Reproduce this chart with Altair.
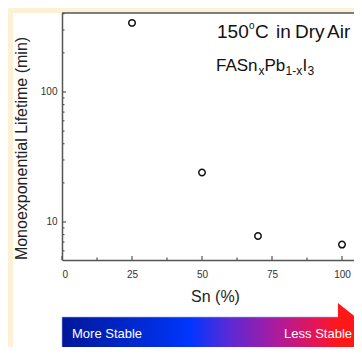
import altair as alt
import pandas as pd

# ---- data ----
sn_percent = [25, 50, 70, 100]
lifetime_min = [340, 24, 7.8, 6.7]

x_major_ticks = [0, 25, 50, 75, 100]
x_minor_ticks = [12.5, 37.5, 62.5, 87.5]
y_major_ticks = [10, 100]
y_minor_ticks = [6, 7, 8, 9, 20, 30, 40, 50, 60, 70, 80, 90, 200, 300, 400]

x_title = "Sn (%)"
y_title = "Monoexponential Lifetime (min)"
arrow_left_label = "More Stable"
arrow_right_label = "Less Stable"
cond_words = ["150", "o", "C", "in", "Dry", "Air"]
formula_parts = ["FASn", "x", "Pb", "1-x", "I", "3"]

FONT = "Liberation Sans"
W, H = 292, 247
AX = "#555555"

df = pd.DataFrame({"sn": sn_percent, "life": lifetime_min})
xs = alt.Scale(domain=[0, W / 2.8], nice=False, zero=False)
ys = alt.Scale(type="log", domain=[5.1, 405], nice=False)

x_axis = alt.Axis(
    values=x_major_ticks, ticks=False, grid=False, format="d",
    labelFont=FONT, labelFontSize=10, labelColor="#333333", labelPadding=9,
    domainColor=AX, domainWidth=1.5, title=x_title, titleFont=FONT,
    titleFontSize=16, titleFontWeight="normal", titleColor="#222222",
    titleX=153, titleY=41, titleBaseline="alphabetic", zindex=1)
y_axis = alt.Axis(
    values=y_major_ticks, ticks=False, grid=False, format="d",
    labelFont=FONT, labelFontSize=10, labelColor="#333333", labelPadding=5,
    domainColor=AX, domainWidth=1.5, title=y_title, titleFont=FONT,
    titleFontSize=16, titleFontWeight="normal", titleColor="#222222",
    titleX=-36, titleY=135, titleAngle=270, titleBaseline="alphabetic", zindex=1)

points = alt.Chart(df).mark_point(
    shape="circle", filled=False, color="#111111", strokeWidth=1.5, size=42, opacity=1
).encode(
    x=alt.X("sn:Q", scale=xs, axis=x_axis, title=x_title),
    y=alt.Y("life:Q", scale=ys, axis=y_axis, title=y_title),
)

def xticks(vals, ln):
    return alt.Chart(pd.DataFrame({"sn": vals})).mark_rule(color=AX, strokeWidth=1.2).encode(
        x=alt.X("sn:Q", scale=xs, axis=x_axis, title=x_title),
        y=alt.value(H), y2=alt.value(H - ln))

def yticks(vals, ln):
    return alt.Chart(pd.DataFrame({"life": vals})).mark_rule(color=AX, strokeWidth=1.2).encode(
        y=alt.Y("life:Q", scale=ys, axis=y_axis, title=y_title),
        x=alt.value(0), x2=alt.value(ln))

top_frame = alt.Chart().mark_rule(color=AX, strokeWidth=1.5).encode(
    x=alt.value(0), x2=alt.value(W), y=alt.value(0))

beige = "#fdf0d5"
strip_left = alt.Chart().mark_rect(color=beige).encode(
    x=alt.value(-54), x2=alt.value(-49), y=alt.value(-5), y2=alt.value(340))
strip_top = alt.Chart().mark_rect(color=beige).encode(
    x=alt.value(-54), x2=alt.value(W), y=alt.value(-5), y2=alt.value(0))

def txt(s, x, y, size, align="left"):
    return alt.Chart().mark_text(
        text=s, font=FONT, fontSize=size, color="#111111", align=align, baseline="alphabetic"
    ).encode(x=alt.value(x), y=alt.value(y))

annot = [
    txt(cond_words[0], 155, 25, 19), txt(cond_words[1], 187, 16, 10),
    txt(cond_words[2], 193, 25, 19), txt(cond_words[3], 214, 25, 19),
    txt(cond_words[4], 233, 25, 19), txt(cond_words[5], 265, 25, 19),
    txt(formula_parts[0], 154, 58, 17), txt(formula_parts[1], 196.5, 62, 12),
    txt(formula_parts[2], 202.5, 58, 17), txt(formula_parts[3], 223.5, 62, 12),
    txt(formula_parts[4], 240.5, 58, 17), txt(formula_parts[5], 245.5, 62, 12),
]

grad = alt.LinearGradient(
    gradient="linear", x1=0, x2=1, y1=0, y2=0,
    stops=[
        alt.GradientStop(color="#00179a", offset=0),
        alt.GradientStop(color="#0030e8", offset=0.38),
        alt.GradientStop(color="#0036ff", offset=0.46),
        alt.GradientStop(color="#5a2ad6", offset=0.6),
        alt.GradientStop(color="#b01a9a", offset=0.78),
        alt.GradientStop(color="#e81550", offset=0.92),
        alt.GradientStop(color="#ff1818", offset=1),
    ],
)
arrow_body = alt.Chart().mark_rect(fill=grad, stroke="#9fb0e8", strokeWidth=0.6).encode(
    x=alt.value(0), x2=alt.value(278), y=alt.value(304), y2=alt.value(335))
arrow_head = alt.Chart().mark_point(
    shape="M-0.63,-1 L0.63,0 L-0.63,1 Z", filled=True, fill="#ff1818", opacity=1,
    strokeWidth=0, size=3481
).encode(x=alt.value(294.5), y=alt.value(319.5))

lbl_l = alt.Chart().mark_text(text=arrow_left_label, font=FONT, fontSize=13, color="white",
                              align="left", baseline="alphabetic").encode(
    x=alt.value(10), y=alt.value(325))
lbl_r = alt.Chart().mark_text(text=arrow_right_label, font=FONT, fontSize=13, color="white",
                              align="right", baseline="alphabetic").encode(
    x=alt.value(290), y=alt.value(325))

chart = alt.layer(
    strip_left, strip_top, top_frame,
    xticks(x_major_ticks, 4), xticks(x_minor_ticks, 2.5),
    yticks(y_major_ticks, 4), yticks(y_minor_ticks, 2.5),
    points, *annot, arrow_body, arrow_head, lbl_l, lbl_r,
).properties(
    width=W, height=H,
    autosize=alt.AutoSizeParams(type="none"),
    padding={"left": 54, "top": 5, "right": 0, "bottom": 87},
    background="white",
).configure_view(stroke=None)

chart.save("out.html", embed_options={"renderer": "svg", "actions": False})
